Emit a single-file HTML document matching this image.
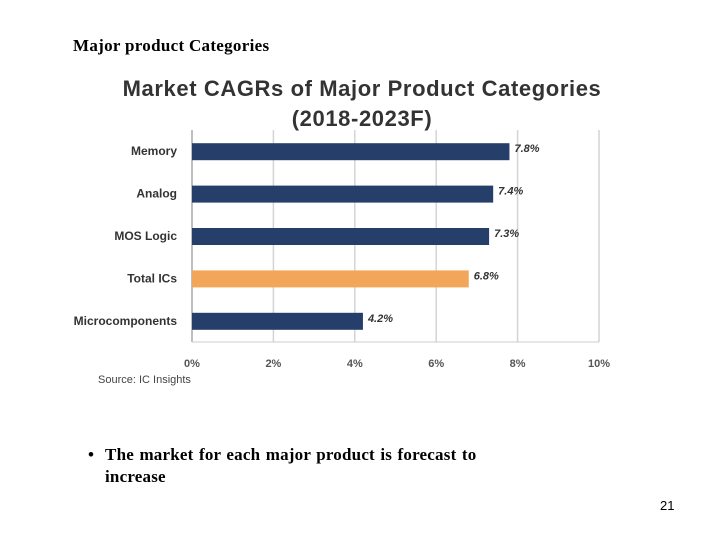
<!DOCTYPE html>
<html><head><meta charset="utf-8"><style>
body{margin:0;width:720px;height:540px;background:#fff;position:relative;overflow:hidden}
.t{position:absolute;white-space:nowrap}
</style></head><body>
<div class="t" style="left:73px;top:36px;font:bold 17px 'Liberation Serif',serif;letter-spacing:0.3px;">Major product Categories</div>
<svg width="720" height="540" style="position:absolute;left:0;top:0" xmlns="http://www.w3.org/2000/svg">
<text x="362" y="96" text-anchor="middle" font-family="Liberation Sans, sans-serif" font-weight="bold" font-size="22" letter-spacing="0.6" fill="#333">Market CAGRs of Major Product Categories</text>
<text x="362" y="126" text-anchor="middle" font-family="Liberation Sans, sans-serif" font-weight="bold" font-size="22" letter-spacing="0.6" fill="#333">(2018-2023F)</text>
<g id="grid"></g><g id="bars"></g><g id="labels"></g>
<text x="98" y="383" font-family="Liberation Sans, sans-serif" font-size="11" fill="#444">Source:  IC Insights</text>
</svg>
<div class="t" style="left:88px;top:444px;font:bold 17px/22px 'Liberation Serif',serif;letter-spacing:0.2px;word-spacing:1px;">•&nbsp;&nbsp;The market for each major product is forecast to<br><span style="margin-left:17px">increase</span></div>
<div class="t" style="left:660px;top:498px;font:13px 'Liberation Sans',sans-serif;">21</div>
<script>
const categories=["Memory","Analog","MOS Logic","Total ICs","Microcomponents"];
const values=[7.8,7.4,7.3,6.8,4.2];
const valueLabels=["7.8%","7.4%","7.3%","6.8%","4.2%"];
const ticks=[0,2,4,6,8,10];
const tickLabels=["0%","2%","4%","6%","8%","10%"];
const NS="http://www.w3.org/2000/svg";
const x0=192,x1=599,yTop=130,yBot=342;
const xs=v=>x0+(v/10)*(x1-x0);
const band=(yBot-yTop)/categories.length;
const yc=i=>yTop+band*(i+0.5);
function mk(t,a,p){const e=document.createElementNS(NS,t);for(const k in a)e.setAttribute(k,a[k]);p.appendChild(e);return e;}
const g=document.getElementById('grid'),b=document.getElementById('bars'),l=document.getElementById('labels');
ticks.forEach((t,i)=>{
 const ln=mk('line',{x1:xs(t),x2:xs(t),y1:yTop,y2:yBot,stroke:i==0?'#aaa':'#d4d4d4','stroke-width':1.5},g);
 
 
 const tx=mk('text',{x:xs(t),y:367,'text-anchor':'middle','font-family':'Liberation Sans, sans-serif','font-size':11,'font-weight':'bold',fill:'#555'},l);
 tx.textContent=tickLabels[i];
 
 
});
mk('line',{x1:x0,x2:x1,y1:yBot,y2:yBot,stroke:'#ccc','stroke-width':1},g);
categories.forEach((c,i)=>{
 const r=mk('rect',{x:x0,y:yc(i)-8,width:xs(values[i])-x0,height:17,fill:c=="Total ICs"?'#f2a65a':'#263f6a'},b);
 
 
 const lt=mk('text',{x:177,y:yc(i)+4,'text-anchor':'end','font-family':'Liberation Sans, sans-serif','font-size':12,'font-weight':'bold',fill:'#333'},l);
 lt.textContent=c;
 
 
 const vt=mk('text',{x:xs(values[i])+5,y:yc(i)+1,'font-family':'Liberation Sans, sans-serif','font-size':11,'font-weight':'bold','font-style':'italic',fill:'#333'},l);
 vt.textContent=valueLabels[i];
 
 
});
</script>
</body></html>
